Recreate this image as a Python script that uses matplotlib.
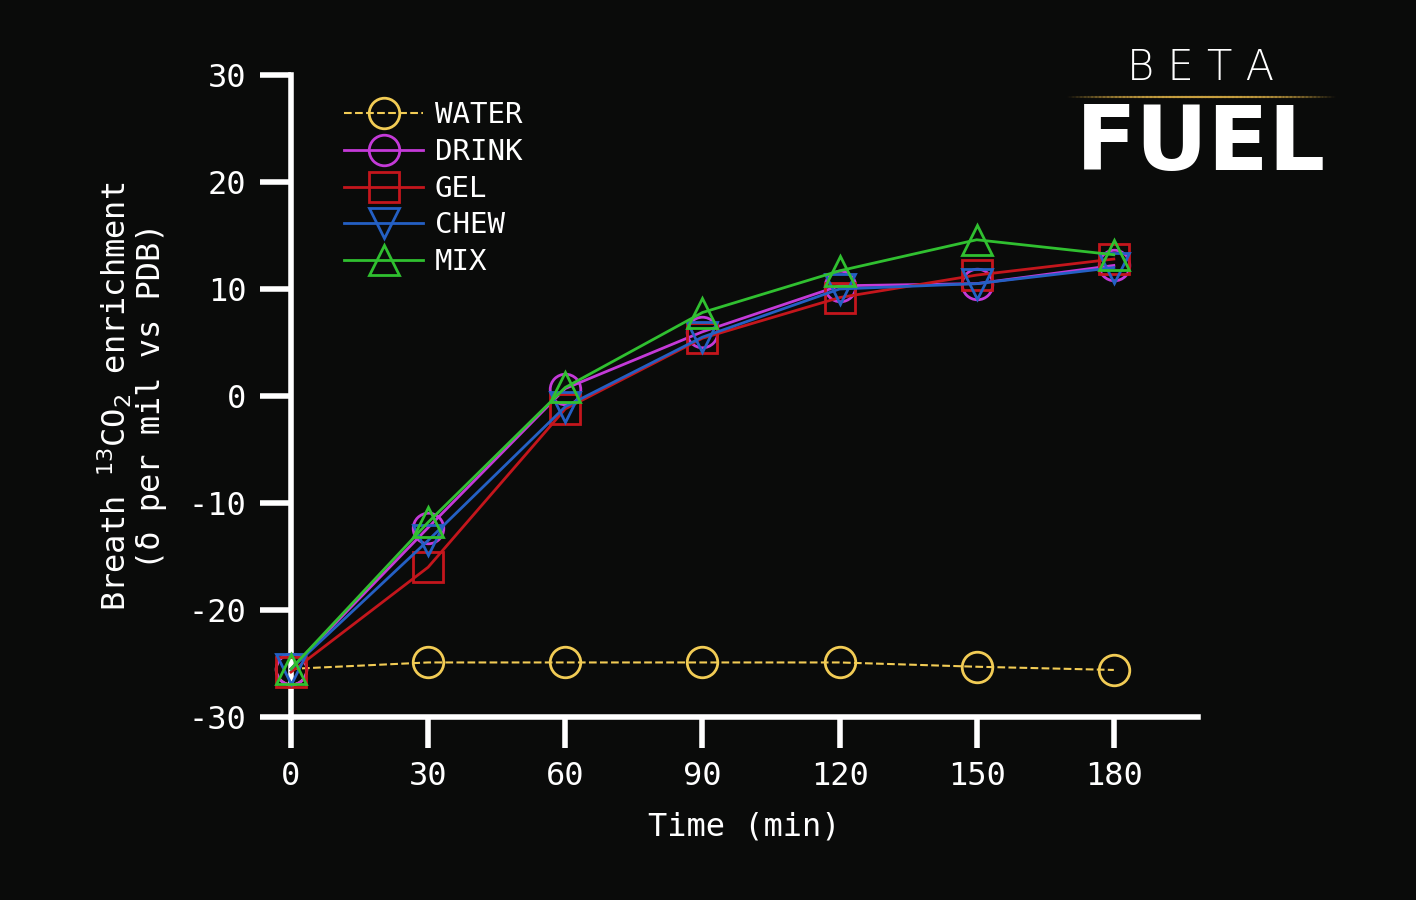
import matplotlib
matplotlib.use("Agg")
import matplotlib.pyplot as plt
import numpy as np
from matplotlib.lines import Line2D

time = [0, 30, 60, 90, 120, 150, 180]
water = [-25.5, -24.9, -24.9, -24.9, -24.9, -25.3, -25.6]
drink = [-25.5, -12.3, 0.7, 6.0, 10.3, 10.5, 12.2]
gel = [-25.8, -16.0, -1.2, 5.4, 9.2, 11.3, 12.8]
chew = [-25.5, -13.5, -1.0, 5.5, 10.0, 10.5, 12.0]
mix = [-25.5, -11.8, 0.8, 7.8, 11.7, 14.6, 13.2]
xticks = [0, 30, 60, 90, 120, 150, 180]
yticks = [-30, -20, -10, 0, 10, 20, 30]

bg = "#0a0b0a"
fig = plt.figure(figsize=(14.16, 9), dpi=100, facecolor=bg)
ax = fig.add_axes([0.2055, 0.2033, 0.6405, 0.7134], facecolor=bg)
mono = "DejaVu Sans Mono"

series = [("WATER", water, "#f2cc55", "o", "--", 1.5),
          ("DRINK", drink, "#c43ad8", "o", "-", 2),
          ("GEL", gel, "#c4161c", "s", "-", 2),
          ("CHEW", chew, "#2460c4", "v", "-", 2),
          ("MIX", mix, "#30c030", "^", "-", 2)]
for name, y, c, m, ls, lw in series:
    ax.plot(time, y, color=c, ls=ls, lw=lw, marker=m, ms=22, mfc="none",
            mec=c, mew=2, label=name, clip_on=False, zorder=3)

ax.set_xlim(0, 198.4)
ax.set_ylim(-30, 30)
ax.set_xticks(xticks)
ax.set_yticks(yticks)
ax.set_xticklabels([str(t) for t in xticks], family=mono, fontsize=23, color="white")
ax.set_yticklabels([str(t) for t in yticks], family=mono, fontsize=23, color="white")
ax.tick_params(axis="both", colors="white", width=4, length=22, pad=10)
for s in ["top", "right"]:
    ax.spines[s].set_visible(False)
for s in ["left", "bottom"]:
    ax.spines[s].set_color("white")
    ax.spines[s].set_linewidth(4)
ax.set_xlabel("Time (min)", family=mono, fontsize=23, color="white", labelpad=14)
ax.set_ylabel("Breath $^{13}$CO$_2$ enrichment\n(δ per mil vs PDB)", family=mono,
              fontsize=23, color="white", labelpad=16, linespacing=1.05)

leg = ax.legend(loc="upper left", bbox_to_anchor=(0.03, 1.0), frameon=False,
                prop={"family": mono, "size": 21}, handlelength=2.7,
                handletextpad=0.4, labelspacing=0.3, labelcolor="white")

# logo
fig.text(0.848, 0.925, "B E T A", ha="center", va="center", color="white",
         fontsize=30, family="DejaVu Sans", fontweight="light")
xs = np.linspace(0.754, 0.943, 200)
for i in range(len(xs) - 1):
    t = abs((xs[i] - 0.848) / 0.095)
    a = max(0.0, 1 - t)
    fig.add_artist(Line2D([xs[i], xs[i + 1]], [0.892, 0.892], color="#c8a040",
                          alpha=a, lw=1.5, transform=fig.transFigure))
fig.text(0.848, 0.838, "FUEL", ha="center", va="center", color="white",
         fontsize=64, family="DejaVu Sans", fontweight="bold", fontstretch="expanded")

fig.savefig("out.png", dpi=100, facecolor=bg)
